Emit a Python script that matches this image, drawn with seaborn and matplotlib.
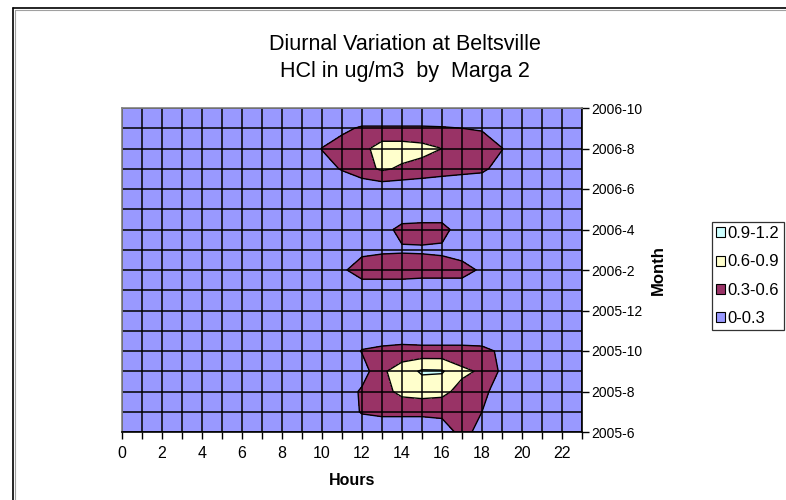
import matplotlib
matplotlib.use("Agg")
import matplotlib.pyplot as plt
from matplotlib.lines import Line2D
from matplotlib.patches import Patch
import numpy as np
import seaborn as sns

# Hours of the day (x) and months (y)
hours = list(range(24))
months = ["2005-6", "2005-7", "2005-8", "2005-9", "2005-10", "2005-11", "2005-12",
          "2006-1", "2006-2", "2006-3", "2006-4", "2006-5", "2006-6", "2006-7",
          "2006-8", "2006-9", "2006-10"]
month_ticks = months[::2]

# HCl concentration (ug/m3), one row per month, one column per hour
b = 0.05
hcl = [
    # 2005-6
    [b]*16 + [0.10, 0.42, 0.18] + [b]*5,
    # 2005-7
    [b]*11 + [0.10, 0.33, 0.38, 0.38, 0.38, 0.40, 0.45, 0.30, 0.10] + [b]*4,
    # 2005-8
    [b]*11 + [0.10, 0.35, 0.50, 0.68, 0.72, 0.68, 0.50, 0.38, 0.15] + [b]*4,
    # 2005-9
    [b]*12 + [0.15, 0.55, 0.75, 0.94, 0.93, 0.66, 0.56, 0.24] + [b]*4,
    # 2005-10
    [b]*12 + [0.32, 0.38, 0.42, 0.40, 0.40, 0.40, 0.38, 0.25] + [b]*4,
    # 2005-11
    [b]*24,
    # 2005-12
    [b]*24,
    # 2006-1
    [b]*11 + [0.12]*7 + [b]*6,
    # 2006-2
    [b]*10 + [0.10, 0.25, 0.45, 0.45, 0.45, 0.42, 0.42, 0.42, 0.25] + [b]*5,
    # 2006-3
    [b]*12 + [0.22, 0.26, 0.27, 0.27, 0.25, 0.15] + [b]*6,
    # 2006-4
    [b]*13 + [0.20, 0.38, 0.40, 0.40, 0.15] + [b]*6,
    # 2006-5
    [b]*13 + [0.10]*4 + [b]*7,
    # 2006-6
    [b]*11 + [0.10]*8 + [b]*5,
    # 2006-7
    [b]*10 + [0.20, 0.32, 0.48, 0.65, 0.55, 0.48, 0.42, 0.38, 0.35, 0.20] + [b]*4,
    # 2006-8
    [b]*10 + [0.31, 0.40, 0.50, 0.75, 0.75, 0.70, 0.60, 0.45, 0.42, 0.31] + [b]*4,
    # 2006-9
    [b]*11 + [0.25, 0.33, 0.33, 0.33, 0.33, 0.32, 0.30, 0.28] + [b]*5,
    # 2006-10
    [b]*24,
]

levels = [0.0, 0.3, 0.6, 0.9, 1.2]
level_labels = ["0-0.3", "0.3-0.6", "0.6-0.9", "0.9-1.2"]
band_colors = sns.color_palette(["#9999FF", "#993366", "#FFFFCC", "#CCFFFF"])

sns.set_theme(style="white")
plt.rcParams["font.family"] = ["Liberation Sans", "DejaVu Sans"]
plt.rcParams["text.color"] = "black"
plt.rcParams["axes.labelcolor"] = "black"
plt.rcParams["xtick.color"] = "black"
plt.rcParams["ytick.color"] = "black"

fig = plt.figure(figsize=(7.86, 5.00), dpi=100)
ax = fig.add_axes([122/786, 68/500, 460/786, 324/500])

X, Y = np.meshgrid(hours, np.arange(len(months)))
Z = np.array(hcl)
ax.contourf(X, Y, Z, levels=levels, colors=band_colors, zorder=1)
ax.contour(X, Y, Z, levels=levels[1:-1], colors="black", linewidths=1.0, zorder=2)

ax.set_xlim(0, 23)
ax.set_ylim(0, len(months) - 1)

# Hour grid and ticks
ax.set_xticks(hours[::2])
ax.set_xticks(hours[1::2], minor=True)
ax.set_xticklabels([str(h) for h in hours[::2]], fontsize=11.5)
# Month grid and ticks, labels on the right
ax.set_yticks(range(0, len(months), 2))
ax.set_yticks(range(1, len(months), 2), minor=True)
ax.set_yticklabels(month_ticks, fontsize=10)
ax.yaxis.tick_right()
ax.yaxis.set_label_position("right")

ax.tick_params(axis="x", which="both", direction="out", length=5, width=1,
               color="black", bottom=True, pad=5)
ax.tick_params(axis="y", which="major", direction="out", length=5, width=1,
               color="black", right=True, left=False, pad=2)
ax.tick_params(axis="y", which="minor", length=0, right=False, left=False)

ax.grid(True, which="both", color="black", linewidth=1.1, zorder=3)
ax.set_axisbelow(False)

for side, sp in ax.spines.items():
    sp.set_color("#808080")
    sp.set_linewidth(1.2)
    sp.set_zorder(4)
ax.spines["bottom"].set_color("black")
ax.spines["right"].set_color("black")

ax.set_xlabel("Hours", fontsize=11.5, fontweight="bold", labelpad=9)
ax.set_ylabel("Month", fontsize=12, fontweight="bold", labelpad=6)

fig.text(405/786, 1 - 45/500, "Diurnal Variation at Beltsville", ha="center",
         va="center", fontsize=15.5)
fig.text(405/786, 1 - 71/500, "HCl in ug/m3  by  Marga 2", ha="center",
         va="center", fontsize=15.5)

# Legend, highest band first
handles = [Patch(facecolor=c, edgecolor="black", linewidth=0.8)
           for c in band_colors]
leg = fig.legend(handles[::-1], level_labels[::-1], loc="upper left",
                 bbox_to_anchor=(712/786, 1 - 222/500), fontsize=12,
                 frameon=True, fancybox=False, handlelength=0.55,
                 handleheight=0.55, handletextpad=0.15, labelspacing=0.8,
                 borderpad=0.25, borderaxespad=0)
leg.get_frame().set_edgecolor("black")
leg.get_frame().set_linewidth(0.9)

# Outer chart frame with a light inner shadow
fig.add_artist(Line2D([13/786, 13/786], [0, 1 - 8/500], color="black", lw=1.2,
                      transform=fig.transFigure))
fig.add_artist(Line2D([13/786, 1], [1 - 8/500, 1 - 8/500], color="black", lw=1.2,
                      transform=fig.transFigure))
fig.add_artist(Line2D([15/786, 15/786], [0, 1 - 10/500], color="#A0A0A0", lw=0.8,
                      transform=fig.transFigure))
fig.add_artist(Line2D([15/786, 1], [1 - 10/500, 1 - 10/500], color="#A0A0A0",
                      lw=0.8, transform=fig.transFigure))

fig.savefig("out.png", dpi=100, facecolor="white")
